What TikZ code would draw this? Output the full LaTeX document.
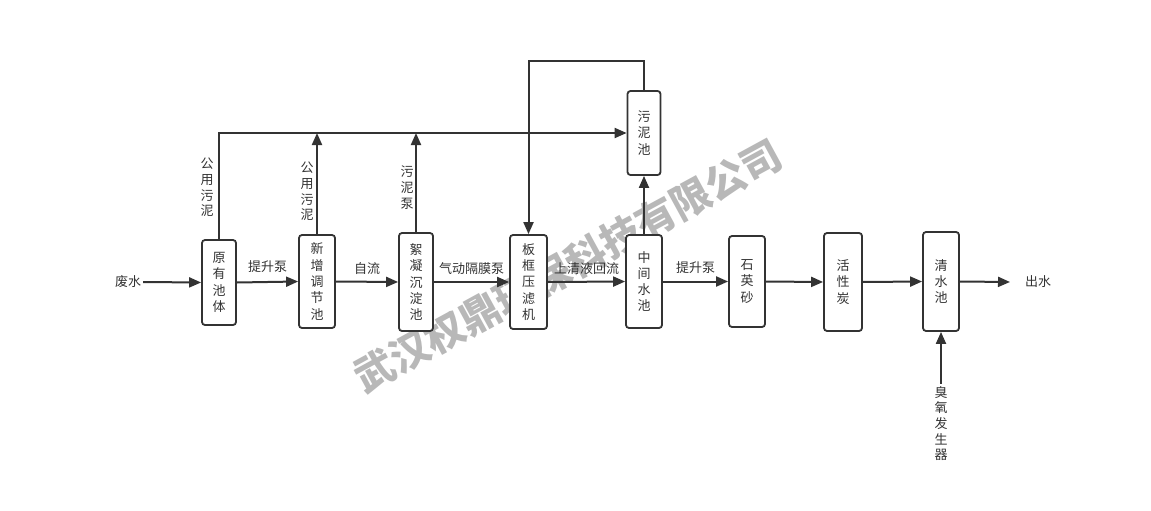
\documentclass[tikz,border=0pt]{standalone}
\usepackage{fontspec}
\setmainfont{Noto Sans CJK SC}
\usepackage{tikz}
\usetikzlibrary{positioning}
\usetikzlibrary{shapes.geometric, arrows, arrows.meta}
\definecolor{linegray}{RGB}{51,51,51}
\definecolor{wmgray}{RGB}{184,184,184}
\tikzstyle{arrow} = [line width=2pt,draw=linegray,-{Triangle[length=12pt,width=10pt]}]
\tikzstyle{tank} = [draw=linegray,line width=1.8pt,rounded corners=3pt,fill=white,align=center,inner sep=0pt,text=linegray,font=\fontsize{13}{16.3}\selectfont]
\tikzstyle{lbl} = [text=linegray,font=\fontsize{13}{15.7}\selectfont,align=center,inner sep=2pt]

\begin{document}
\begin{tikzpicture}[x=1pt,y=-1pt]
	\useasboundingbox (0,0) rectangle (1151,511);

	% watermark
	\node[rotate=28.6,text=wmgray,font=\fontsize{40}{40}\selectfont\bfseries,inner sep=0pt] (wm) at (568,266) {武汉权鼎环保科技有限公司};

	% tanks
	\node[tank,minimum width=34pt,minimum height=85pt] (yuan) at (219,282.5) {原\\有\\池\\体};
	\node[tank,minimum width=36pt,minimum height=93pt] (tiaojie) at (317,281.5) {新\\增\\调\\节\\池};
	\node[tank,minimum width=34pt,minimum height=98pt] (chendian) at (416,282) {絮\\凝\\沉\\淀\\池};
	\node[tank,minimum width=37pt,minimum height=94pt] (yalv) at (528.5,282) {板\\框\\压\\滤\\机};
	\node[tank,minimum width=36pt,minimum height=93pt] (zhongjian) at (644,281.5) {中\\间\\水\\池};
	\node[tank,minimum width=33pt,minimum height=84pt] (wuni) at (644,133) {污\\泥\\池};
	\node[tank,minimum width=36pt,minimum height=91pt] (shiying) at (747,281.5) {石\\英\\砂};
	\node[tank,minimum width=38pt,minimum height=98pt] (huoxing) at (843,282) {活\\性\\炭};
	\node[tank,minimum width=36pt,minimum height=99pt] (qingshui) at (941,281.5) {清\\水\\池};

	% in and out
	\node[lbl] (feishui) at (128,282) {废水};
	\node[lbl] (chushui) at (1038,282) {出水};
	\coordinate (chuEnd) at (1010,282);
	\node[lbl] (chouyang) at (941,423.5) {臭\\氧\\发\\生\\器};

	% main line
	\draw[arrow] (feishui.east) -- (yuan.west);
	\draw[arrow] (yuan.east) -- node[lbl,above=6pt] {提升泵} (tiaojie.west);
	\draw[arrow] (tiaojie.east) -- node[lbl,above=4pt] {自流} (chendian.west);
	\draw[arrow] (chendian.east) -- node[lbl,above=4pt] {气动隔膜泵} (yalv.west);
	\draw[arrow] (yalv.east) -- node[lbl,above=4pt] {上清液回流} (zhongjian.west);
	\draw[arrow] (zhongjian.east) -- node[lbl,above=5pt] {提升泵} (shiying.west);
	\draw[arrow] (shiying.east) -- (huoxing.west);
	\draw[arrow] (huoxing.east) -- (qingshui.west);
	\draw[arrow] (qingshui.east) -- (chuEnd);
	\draw[arrow] (chouyang.north) -- (qingshui.south);

	% sludge lines
	\coordinate (topL) at (219,133);
	\draw[arrow] (yuan.north) -- (topL) -- (wuni.west);
	\draw[arrow] (tiaojie.north) -- (tiaojie.north |- topL);
	\draw[arrow] (chendian.north) -- (chendian.north |- topL);
	\draw[arrow] (zhongjian.north) -- (wuni.south);
	\draw[arrow] (wuni.north) -- ++(0,-29.5) -| (yalv.north);

	% labels on the sludge lines
	\node[lbl] (gy1) at (207,187.5) {公\\用\\污\\泥};
	\node[lbl] (gy2) at (307,191.5) {公\\用\\污\\泥};
	\node[lbl] (wnb) at (407,187.5) {污\\泥\\泵};
\end{tikzpicture}
\end{document}
